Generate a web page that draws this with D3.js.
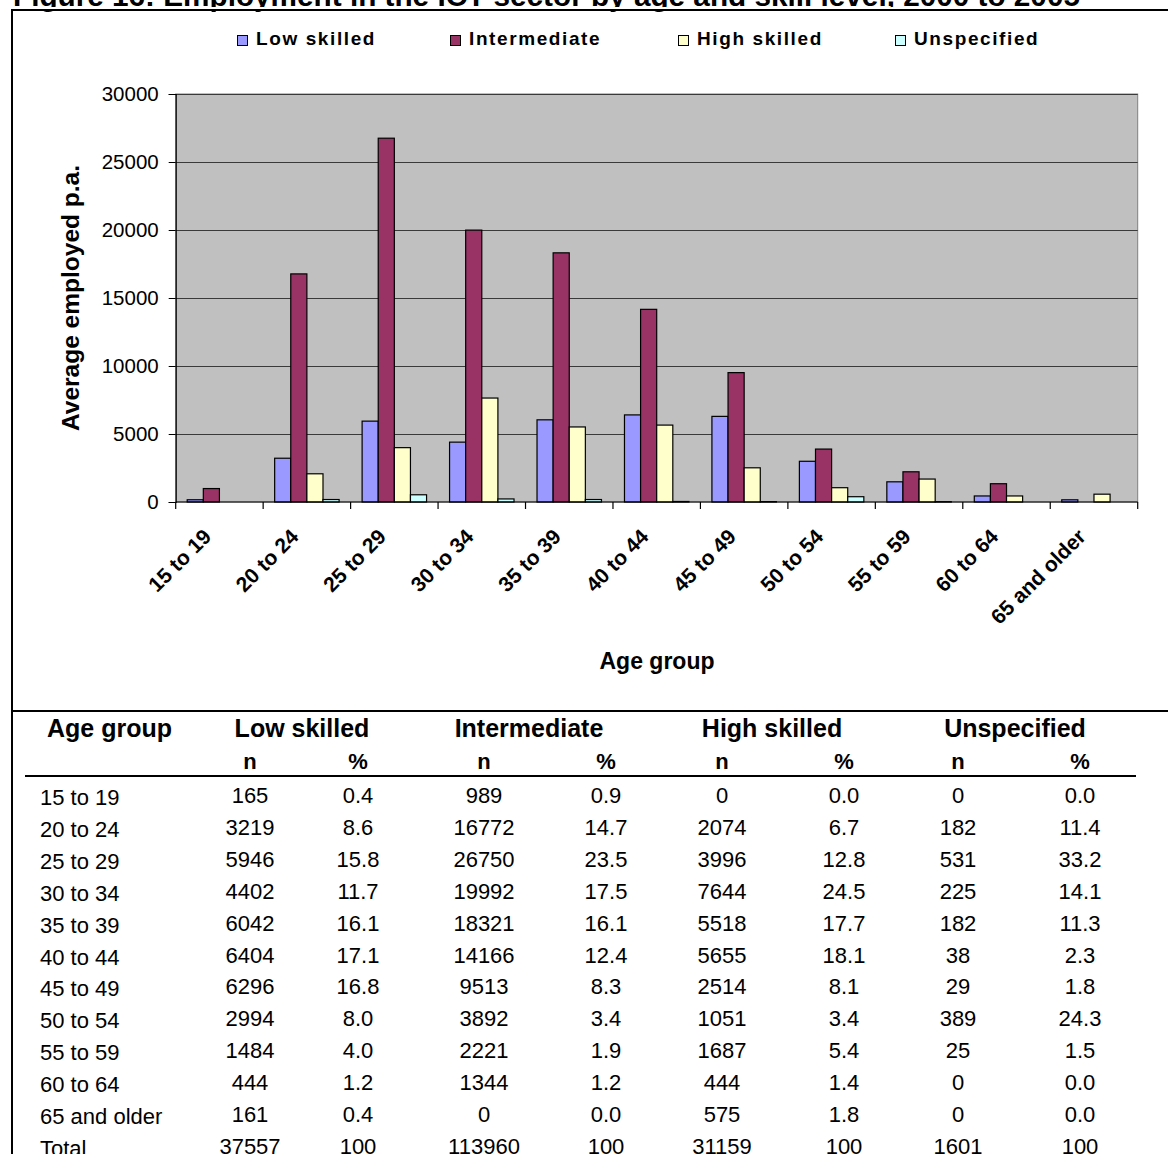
<!DOCTYPE html>
<html>
<head>
<meta charset="utf-8">
<script src="https://cdn.jsdelivr.net/npm/d3@7"></script>
<style>
  html, body { margin: 0; padding: 0; background: #ffffff; }
  svg { display: block; font-family: Arial, "Liberation Sans", sans-serif; }
</style>
</head>
<body>
<svg id="fig" width="1168" height="1154"></svg>
<script>
// ---- data -------------------------------------------------------------
const ageGroups = ["15 to 19", "20 to 24", "25 to 29", "30 to 34", "35 to 39", "40 to 44",
                   "45 to 49", "50 to 54", "55 to 59", "60 to 64", "65 and older"];
const seriesNames = ["Low skilled", "Intermediate", "High skilled", "Unspecified"];
const seriesColors = ["#9999FF", "#993366", "#FFFFCC", "#CCFFFF"];

const lowN      = [165, 3219, 5946, 4402, 6042, 6404, 6296, 2994, 1484, 444, 161];
const lowPct    = [0.4, 8.6, 15.8, 11.7, 16.1, 17.1, 16.8, 8.0, 4.0, 1.2, 0.4];
const interN    = [989, 16772, 26750, 19992, 18321, 14166, 9513, 3892, 2221, 1344, 0];
const interPct  = [0.9, 14.7, 23.5, 17.5, 16.1, 12.4, 8.3, 3.4, 1.9, 1.2, 0.0];
const highN     = [0, 2074, 3996, 7644, 5518, 5655, 2514, 1051, 1687, 444, 575];
const highPct   = [0.0, 6.7, 12.8, 24.5, 17.7, 18.1, 8.1, 3.4, 5.4, 1.4, 1.8];
const unspecN   = [0, 182, 531, 225, 182, 38, 29, 389, 25, 0, 0];
const unspecPct = [0.0, 11.4, 33.2, 14.1, 11.3, 2.3, 1.8, 24.3, 1.5, 0.0, 0.0];
const totalN    = [37557, 113960, 31159, 1601];
const totalPct  = [100, 100, 100, 100];

const yTicks = [0, 5000, 10000, 15000, 20000, 25000, 30000];

const titleText = "Figure 16: Employment in the ICT sector by age and skill level, 2000 to 2005";
const yTitle = "Average employed p.a.";
const xTitle = "Age group";

// ---- setup ------------------------------------------------------------
const svg = d3.select("#fig");
const seriesN = [lowN, interN, highN, unspecN];
const seriesPct = [lowPct, interPct, highPct, unspecPct];

// Title, sized to run across the page width
const title = svg.append("text")
  .attr("x", 13).attr("y", 6)
  .attr("font-weight", "bold").attr("font-size", 24)
  .text(titleText);
const tw = title.node().getComputedTextLength();
title.attr("font-size", 24 * 1067 / tw);

// Frame round the chart and the table
svg.append("rect").attr("x", 0).attr("y", 7).attr("width", 1168).attr("height", 3).attr("fill", "#fff");
svg.append("line").attr("x1", 12).attr("x2", 1168).attr("y1", 10).attr("y2", 10)
  .attr("stroke", "#000").attr("stroke-width", 2);
svg.append("line").attr("x1", 12).attr("x2", 12).attr("y1", 9).attr("y2", 1154)
  .attr("stroke", "#000").attr("stroke-width", 2);
svg.append("line").attr("x1", 12).attr("x2", 1168).attr("y1", 711).attr("y2", 711)
  .attr("stroke", "#000").attr("stroke-width", 2);

// ---- chart ------------------------------------------------------------
const plot = { left: 175.7, right: 1137.7, top: 94, bottom: 502 };

const x0 = d3.scaleBand().domain(ageGroups).range([plot.left, plot.right]).padding(0);
const inset = 11.5;
const x1 = d3.scaleBand().domain(seriesNames)
  .range([inset, x0.bandwidth() - inset]).padding(0);
const y = d3.scaleLinear().domain([0, 30000]).range([plot.bottom, plot.top]);

// Plot background
svg.append("rect")
  .attr("x", plot.left).attr("y", plot.top)
  .attr("width", plot.right - plot.left).attr("height", plot.bottom - plot.top)
  .attr("fill", "#C0C0C0").attr("stroke", "#808080").attr("stroke-width", 1);

// Horizontal gridlines
svg.append("g").selectAll("line")
  .data(yTicks.filter(d => d > 0))
  .join("line")
  .attr("x1", plot.left).attr("x2", plot.right)
  .attr("y1", d => Math.round(y(d)) + 0.5).attr("y2", d => Math.round(y(d)) + 0.5)
  .attr("stroke", "#3a3a3a").attr("stroke-width", 1);

// Bars
const groups = svg.append("g").selectAll("g")
  .data(ageGroups)
  .join("g")
  .attr("transform", d => `translate(${x0(d)},0)`);

groups.selectAll("rect")
  .data((d, i) => seriesNames.map((s, k) => ({ s, k, v: seriesN[k][i] })))
  .join("rect")
  .filter(d => d.v > 0)
  .attr("x", d => x1(d.s))
  .attr("y", d => y(d.v))
  .attr("width", x1.bandwidth())
  .attr("height", d => y(0) - y(d.v))
  .attr("fill", d => seriesColors[d.k])
  .attr("stroke", "#000").attr("stroke-width", 1.2);

// Y axis
const yAxis = d3.axisLeft(y).tickValues(yTicks).tickSize(7).tickPadding(10).tickFormat(d3.format("d"));
const gy = svg.append("g").attr("transform", `translate(${plot.left},0)`).call(yAxis);
gy.select(".domain").attr("stroke", "#000").attr("stroke-width", 1.2);
gy.selectAll(".tick line").attr("stroke", "#000");
gy.selectAll(".tick text").attr("font-size", 20.5).attr("font-family", "Arial, 'Liberation Sans', sans-serif")
  .attr("fill", "#000");

// X axis: ticks at category boundaries
const boundaries = ageGroups.map(d => x0(d)).concat([plot.right]);
svg.append("line").attr("x1", plot.left).attr("x2", plot.right)
  .attr("y1", plot.bottom).attr("y2", plot.bottom)
  .attr("stroke", "#000").attr("stroke-width", 1.2);
svg.append("g").selectAll("line")
  .data(boundaries)
  .join("line")
  .attr("x1", d => d).attr("x2", d => d)
  .attr("y1", plot.bottom).attr("y2", plot.bottom + 7)
  .attr("stroke", "#000").attr("stroke-width", 1.2);

svg.append("g").selectAll("text")
  .data(ageGroups)
  .join("text")
  .attr("transform", d => `translate(${x0(d) + x0.bandwidth() / 2 - 7},${plot.bottom + 36}) rotate(-45)`)
  .attr("text-anchor", "end")
  .attr("font-weight", "bold").attr("font-size", 21)
  .text(d => d);

// Axis titles
svg.append("text")
  .attr("transform", "translate(79,298) rotate(-90)")
  .attr("text-anchor", "middle")
  .attr("font-weight", "bold").attr("font-size", 24.5)
  .text(yTitle);

svg.append("text")
  .attr("x", 657).attr("y", 669)
  .attr("text-anchor", "middle")
  .attr("font-weight", "bold").attr("font-size", 23)
  .text(xTitle);

// Legend
const legendX = [237, 450, 678, 895];
const legend = svg.append("g").selectAll("g")
  .data(seriesNames)
  .join("g")
  .attr("transform", (d, i) => `translate(${legendX[i]},0)`);
legend.append("rect")
  .attr("x", 0.5).attr("y", 35.5).attr("width", 10).attr("height", 10)
  .attr("fill", (d, i) => seriesColors[i]).attr("stroke", "#000").attr("stroke-width", 1);
legend.append("text")
  .attr("x", 19).attr("y", 45)
  .attr("font-weight", "bold").attr("font-size", 19).attr("letter-spacing", 1.6)
  .text(d => d);

// ---- table ------------------------------------------------------------
const colX = [250, 358, 484, 606, 722, 844, 958, 1080];
const groupX = [302, 529, 772, 1015];

svg.append("text").attr("x", 47).attr("y", 737)
  .attr("font-weight", "bold").attr("font-size", 25).text("Age group");

svg.append("g").selectAll("text")
  .data(seriesNames)
  .join("text")
  .attr("x", (d, i) => groupX[i]).attr("y", 737)
  .attr("text-anchor", "middle")
  .attr("font-weight", "bold").attr("font-size", 25)
  .text(d => d);

svg.append("g").selectAll("text")
  .data(colX)
  .join("text")
  .attr("x", d => d).attr("y", 769)
  .attr("text-anchor", "middle")
  .attr("font-weight", "bold").attr("font-size", 22)
  .text((d, i) => i % 2 === 0 ? "n" : "%");

svg.append("line").attr("x1", 25).attr("x2", 1136).attr("y1", 776).attr("y2", 776)
  .attr("stroke", "#000").attr("stroke-width", 2);

const rowY = d3.scaleLinear().domain([0, 11]).range([803, 1154]);
const fmtPct = d3.format(".1f");

const rows = ageGroups.map((g, i) => {
  const cells = [];
  for (let k = 0; k < 4; k++) {
    cells.push(String(seriesN[k][i]));
    cells.push(fmtPct(seriesPct[k][i]));
  }
  return { label: g, cells };
});
const totalCells = [];
for (let k = 0; k < 4; k++) { totalCells.push(String(totalN[k])); totalCells.push(String(totalPct[k])); }
rows.push({ label: "Total", cells: totalCells });

const rowG = svg.append("g").selectAll("g")
  .data(rows)
  .join("g")
  .attr("transform", (d, i) => `translate(0,${rowY(i)})`);

rowG.append("text")
  .attr("x", 40).attr("y", 2)
  .attr("font-size", 22)
  .text(d => d.label);

rowG.selectAll("text.cell")
  .data(d => d.cells)
  .join("text")
  .attr("class", "cell")
  .attr("x", (d, i) => colX[i]).attr("y", 0)
  .attr("text-anchor", "middle")
  .attr("font-size", 22)
  .text(d => d);
</script>
</body>
</html>
